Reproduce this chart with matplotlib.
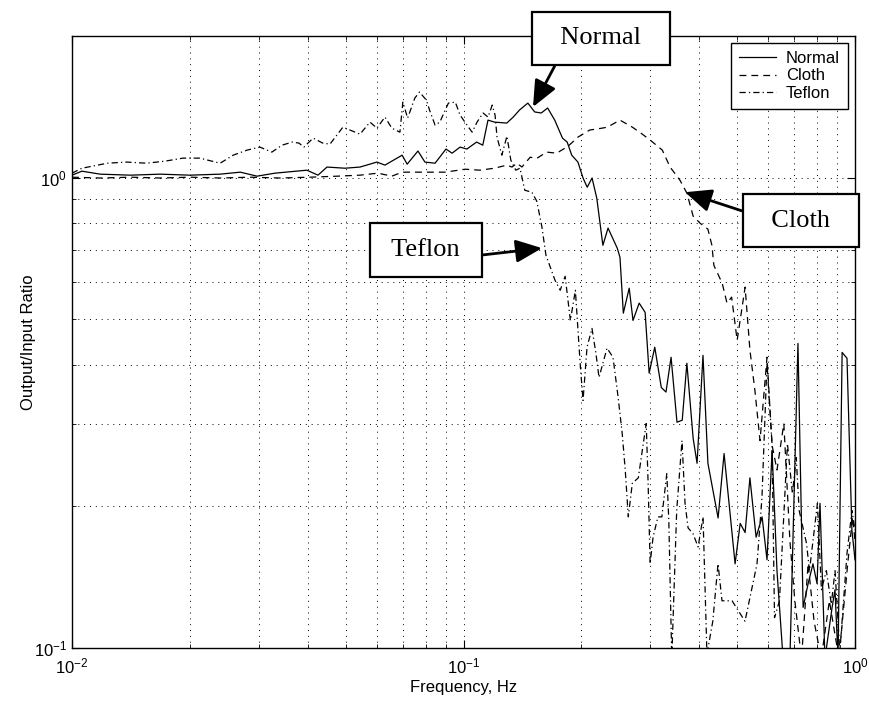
import matplotlib
matplotlib.use('Agg')
import matplotlib.pyplot as plt
from matplotlib.ticker import LogLocator, NullFormatter

plt.rcParams['font.family'] = ['Liberation Sans', 'DejaVu Sans']
plt.rcParams['mathtext.fontset'] = 'custom'
plt.rcParams['mathtext.rm'] = 'Liberation Sans'
plt.rcParams['mathtext.it'] = 'Liberation Sans:italic'

# frequency (Hz) / output-input ratio
freq_normal = [0.0100, 0.0106, 0.0118, 0.0141, 0.0168, 0.0200, 0.0239, 0.0269, 0.0297, 0.0330,
               0.0398, 0.0425, 0.0448, 0.0498, 0.0544, 0.0601, 0.0630, 0.0697, 0.0718, 0.0765,
               0.0797, 0.0846, 0.0902, 0.0935, 0.0980, 0.102, 0.108, 0.112, 0.1155, 0.120,
               0.129, 0.134, 0.139, 0.146, 0.152, 0.158, 0.164, 0.171, 0.179, 0.184,
               0.189, 0.196, 0.202, 0.207, 0.213, 0.219, 0.227, 0.234, 0.247, 0.251,
               0.256, 0.265, 0.271, 0.281, 0.291, 0.298, 0.308, 0.320, 0.329, 0.339,
               0.351, 0.362, 0.372, 0.386, 0.395, 0.409, 0.421, 0.447, 0.463, 0.494,
               0.509, 0.524, 0.539, 0.559, 0.579, 0.596, 0.614, 0.632, 0.655, 0.682,
               0.715, 0.737, 0.759, 0.781, 0.800, 0.814, 0.838, 0.874, 0.889, 0.905,
               0.927, 0.954, 0.982, 1.0]
ratio_normal = [1.012, 1.032, 1.017, 1.012, 1.017, 1.012, 1.017, 1.027, 1.007, 1.022,
                1.037, 1.012, 1.053, 1.047, 1.053, 1.079, 1.063, 1.116, 1.068, 1.139,
                1.079, 1.073, 1.150, 1.127, 1.161, 1.150, 1.190, 1.172, 1.325, 1.312,
                1.306, 1.345, 1.392, 1.440, 1.379, 1.372, 1.406, 1.325, 1.213, 1.190,
                1.116, 1.079, 0.998, 0.954, 0.998, 0.904, 0.718, 0.781, 0.708, 0.677,
                0.515, 0.582, 0.497, 0.541, 0.517, 0.384, 0.436, 0.358, 0.350, 0.415,
                0.302, 0.305, 0.403, 0.279, 0.247, 0.419, 0.247, 0.189, 0.259, 0.151,
                0.184, 0.176, 0.230, 0.172, 0.190, 0.154, 0.263, 0.146, 0.095, 0.095,
                0.444, 0.122, 0.137, 0.151, 0.137, 0.203, 0.095, 0.122, 0.133, 0.095,
                0.425, 0.413, 0.178, 0.154]

freq_cloth = [0.0100, 0.0118, 0.0141, 0.0168, 0.0200, 0.0239, 0.0285, 0.0340, 0.0405, 0.0476,
              0.0544, 0.0605, 0.0656, 0.0697, 0.0772, 0.0897, 0.101, 0.110, 0.120, 0.129,
              0.133, 0.137, 0.141, 0.148, 0.154, 0.163, 0.173, 0.185, 0.196, 0.210,
              0.226, 0.233, 0.251, 0.270, 0.284, 0.300, 0.322, 0.337, 0.357, 0.372,
              0.386, 0.402, 0.421, 0.431, 0.436, 0.458, 0.471, 0.484, 0.500, 0.524,
              0.539, 0.555, 0.572, 0.596, 0.614, 0.632, 0.658, 0.682, 0.702, 0.730,
              0.759, 0.786, 0.820, 0.860, 0.910, 0.958, 0.986, 1.0]
ratio_cloth = [1.002, 0.998, 1.002, 0.998, 1.002, 0.998, 1.002, 0.998, 1.002, 1.007,
               1.012, 1.022, 1.007, 1.027, 1.027, 1.027, 1.042, 1.037, 1.047, 1.063,
               1.053, 1.073, 1.053, 1.105, 1.099, 1.133, 1.127, 1.166, 1.219, 1.262,
               1.274, 1.280, 1.325, 1.280, 1.243, 1.201, 1.144, 1.053, 0.988, 0.927,
               0.828, 0.800, 0.777, 0.718, 0.651, 0.596, 0.541, 0.557, 0.451, 0.585,
               0.430, 0.353, 0.276, 0.415, 0.270, 0.239, 0.300, 0.169, 0.126, 0.095,
               0.151, 0.114, 0.095, 0.126, 0.095, 0.151, 0.190, 0.169]

freq_teflon = [0.0100, 0.0106, 0.0113, 0.0123, 0.0138, 0.0155, 0.0173, 0.0192, 0.0212, 0.0239,
               0.0258, 0.0280, 0.0302, 0.0324, 0.0344, 0.0365, 0.0380, 0.0391, 0.0413, 0.0437,
               0.0456, 0.0492, 0.0513, 0.0544, 0.0577, 0.0601, 0.0630, 0.0656, 0.0688, 0.0700,
               0.0720, 0.0751, 0.0772, 0.0804, 0.0819, 0.0846, 0.0870, 0.0915, 0.0953, 0.0980,
               0.1021, 0.1052, 0.1083, 0.1122, 0.1155, 0.1184, 0.1204, 0.1218, 0.1253, 0.1291,
               0.1321, 0.1360, 0.1394, 0.1434, 0.1495, 0.1539, 0.1586, 0.1624, 0.1713, 0.1766,
               0.1818, 0.1875, 0.1931, 0.1989, 0.2020, 0.2068, 0.2129, 0.2179, 0.2219, 0.2326,
               0.2409, 0.2483, 0.2543, 0.2589, 0.2636, 0.2699, 0.2796, 0.2879, 0.2929, 0.2962,
               0.2997, 0.3049, 0.3138, 0.3211, 0.3306, 0.3345, 0.3404, 0.3504, 0.3615, 0.3680,
               0.3747, 0.3857, 0.3974, 0.4091, 0.4186, 0.4333, 0.4468, 0.4574, 0.4852, 0.5236,
               0.5620, 0.5786, 0.5959, 0.6138, 0.6229, 0.6413, 0.6721, 0.6920, 0.7078, 0.7200,
               0.7518, 0.7650, 0.8017, 0.8208, 0.8450, 0.8700, 0.8892, 0.9146, 0.9541, 0.9824,
               1.0]
ratio_teflon = [1.022, 1.047, 1.058, 1.073, 1.079, 1.073, 1.084, 1.100, 1.100, 1.073,
                1.116, 1.144, 1.161, 1.133, 1.172, 1.190, 1.184, 1.161, 1.213, 1.184,
                1.178, 1.280, 1.262, 1.237, 1.312, 1.274, 1.345, 1.274, 1.249, 1.447,
                1.338, 1.476, 1.520, 1.461, 1.392, 1.293, 1.312, 1.440, 1.447, 1.358,
                1.293, 1.249, 1.312, 1.372, 1.345, 1.426, 1.358, 1.219, 1.116, 1.225,
                1.089, 1.037, 1.047, 0.940, 0.931, 0.891, 0.785, 0.684, 0.605, 0.576,
                0.617, 0.497, 0.576, 0.395, 0.336, 0.436, 0.478, 0.423, 0.376, 0.434,
                0.415, 0.341, 0.286, 0.239, 0.190, 0.224, 0.230, 0.272, 0.300, 0.224,
                0.151, 0.172, 0.190, 0.190, 0.235, 0.187, 0.095, 0.196, 0.276, 0.203,
                0.180, 0.175, 0.164, 0.190, 0.097, 0.114, 0.151, 0.126, 0.126, 0.114,
                0.151, 0.209, 0.403, 0.272, 0.116, 0.126, 0.272, 0.213, 0.254, 0.196,
                0.167, 0.146, 0.203, 0.133, 0.146, 0.124, 0.146, 0.098, 0.159, 0.196,
                0.178]

fig = plt.figure(figsize=(8.7, 7.04), dpi=100)
ax = fig.add_axes([72/870, 1-648/704, 783/870, 612/704])

ax.plot(freq_normal, ratio_normal, color='k', lw=0.9, ls='-', label='Normal')
ax.plot(freq_cloth, ratio_cloth, color='k', lw=0.9, ls=(0, (5.5, 4)), label='Cloth')
ax.plot(freq_teflon, ratio_teflon, color='k', lw=0.9, ls=(0, (5, 2.5, 1, 2.5)), label='Teflon')

ax.set_xscale('log')
ax.set_yscale('log')
ax.set_xlim(0.01, 1)
ax.set_ylim(0.1, 2)

ax.xaxis.set_minor_locator(LogLocator(base=10, subs=range(2, 10)))
ax.yaxis.set_minor_locator(LogLocator(base=10, subs=range(2, 10)))
ax.xaxis.set_minor_formatter(NullFormatter())
ax.yaxis.set_minor_formatter(NullFormatter())

# matlab-like grid and ticks
ax.grid(True, which='both', color='k', lw=0.7, ls=(0, (1, 5)))
ax.set_axisbelow(True)
ax.tick_params(which='both', direction='in', top=True, right=True, labelsize=12)
ax.tick_params(which='major', length=6, width=0.8)
ax.tick_params(which='minor', length=3, width=0.6)
ax.tick_params(axis='x', which='major', pad=6)
for s in ax.spines.values():
    s.set_linewidth(1.0)

ax.set_xlabel('Frequency, Hz', fontsize=12, labelpad=3)
ax.set_ylabel('Output/Input Ratio', fontsize=12)
ax.yaxis.set_label_coords(-0.046, 0.5)

leg = ax.legend(loc='upper right', fontsize=12, handlelength=2.2, labelspacing=0.15,
                borderpad=0.5, borderaxespad=0.4, handletextpad=0.6, fancybox=False,
                framealpha=1, edgecolor='k')
leg.get_frame().set_linewidth(1.0)

# labels with arrows
box = dict(boxstyle='square,pad=0.6', fc='white', ec='k', lw=1.6)
font = dict(family=['Liberation Serif', 'DejaVu Serif'], size=19)

def arrow(relpos):
    return dict(arrowstyle='-|>,head_length=0.8,head_width=0.35', mutation_scale=20,
                lw=2, color='k', shrinkA=0, shrinkB=0, relpos=relpos)

ax.annotate('  Normal  ', xy=(0.1505, 1.413), xytext=(0.2245, 1.976), ha='center', va='center',
            bbox=box, arrowprops=arrow((0.15, 0.0)), annotation_clip=False, **font)
ax.annotate('  Cloth  ', xy=(0.368, 0.931), xytext=(0.728, 0.810), ha='center', va='center',
            bbox=box, arrowprops=arrow((0.0, 0.7)), annotation_clip=False, **font)
ax.annotate(' Teflon ', xy=(0.1587, 0.708), xytext=(0.0802, 0.701), ha='center', va='center',
            bbox=box, arrowprops=arrow((1.0, 0.2)), annotation_clip=False, **font)

fig.savefig('out.png', dpi=100)
